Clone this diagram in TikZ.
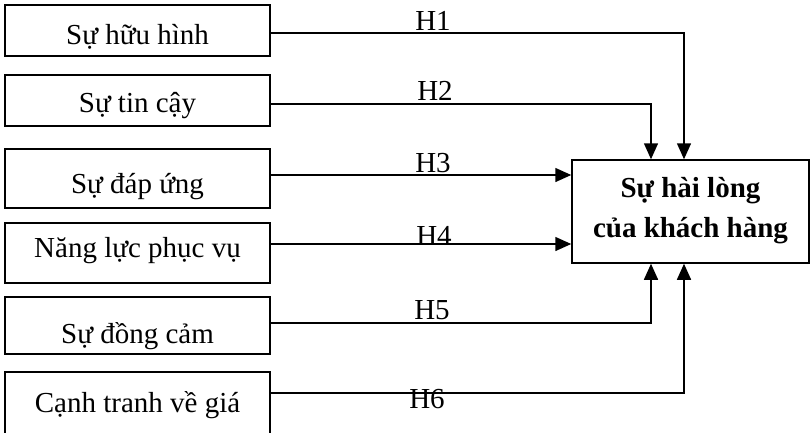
\documentclass[tikz,border=0pt]{standalone}
\usepackage{fontspec}
\setmainfont{Liberation Serif}
\usetikzlibrary{arrows.meta}
\begin{document}
\begin{tikzpicture}[x=1pt,y=-1pt,
  every node/.style={font=\fontsize{29}{40}\selectfont},
  box/.style={draw, line width=1.5pt, inner sep=0pt, minimum width=265pt,
    text height=#1, text depth=0pt},
  link/.style={line width=1.5pt},
  arrowlink/.style={link, -{Triangle[length=16pt,width=14pt]}},
  hlabel/.style={anchor=base, inner sep=0pt}]
\useasboundingbox (0,0) rectangle (811,432);
\clip (0,0) rectangle (811,432);

% factor boxes
\node[box=27pt, minimum height=51pt] (b1) at (137.5,30.5) {Sự hữu hình};
\node[box=23pt, minimum height=51pt] (b2) at (137.5,100.5) {Sự tin cậy};
\node[box=29pt, minimum height=59pt] (b3) at (137.5,178.5) {Sự đáp ứng};
\node[box=8pt, minimum height=60pt] (b4) at (137.5,253) {Năng lực phục vụ};
\node[box=35pt, minimum height=57pt] (b5) at (137.5,325.5) {Sự đồng cảm};
\node[box=12pt, minimum height=68pt] (b6) at (137.5,406) {Cạnh tranh về giá};

% outcome box
\node[draw, line width=1.5pt, inner sep=0pt, minimum width=237pt,
  minimum height=103pt, align=center, text height=51pt, text depth=0pt,
  font=\fontsize{29}{40}\selectfont\bfseries] (sat) at (690.5,211.5)
  {Sự hài lòng\\của khách hàng};

% bends of the connectors
\coordinate (k1) at (684,33);
\coordinate (k2) at (651,104);
\coordinate (k3) at (572,175);
\coordinate (k4) at (572,244);
\coordinate (k5) at (651,323);
\coordinate (k6) at (684,393);

\draw[arrowlink] (b1.east |- k1) -- (k1) -- (k1 |- sat.north);
\draw[arrowlink] (b2.east |- k2) -- (k2) -- (k2 |- sat.north);
\draw[arrowlink] (b3.east |- k3) -- (sat.west |- k3);
\draw[arrowlink] (b4.east |- k4) -- (sat.west |- k4);
\draw[arrowlink] (b5.east |- k5) -- (k5) -- (k5 |- sat.south);
\draw[arrowlink] (b6.east |- k6) -- (k6) -- (k6 |- sat.south);

% hypothesis labels
\node[hlabel] (h1) at (433,30) {H1};
\node[hlabel] (h2) at (435,100) {H2};
\node[hlabel] (h3) at (433,172) {H3};
\node[hlabel] (h4) at (434,245) {H4};
\node[hlabel] (h5) at (432,319) {H5};
\node[hlabel] (h6) at (427,408) {H6};
\end{tikzpicture}
\end{document}
